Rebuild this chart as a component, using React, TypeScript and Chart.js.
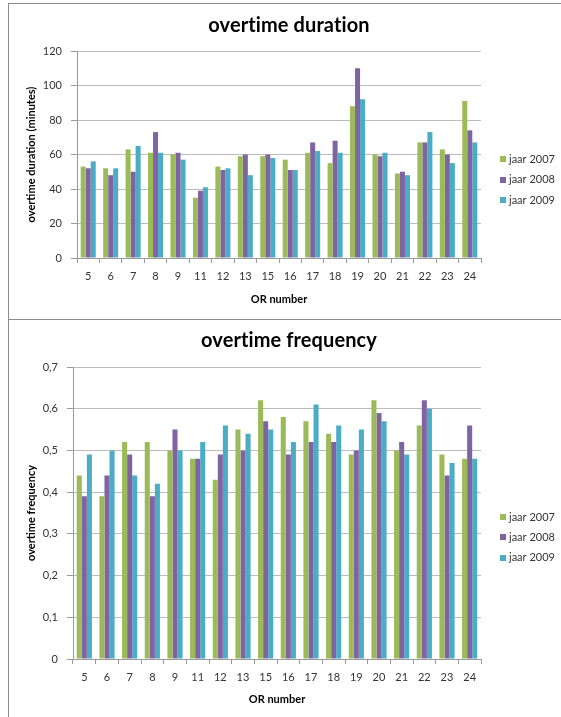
import React, { useEffect, useRef } from 'react';
import { Chart, registerables } from 'chart.js';

Chart.register(...registerables);

// Operating rooms on the category axis
const orNumbers = ['5', '6', '7', '8', '9', '11', '12', '13', '15', '16', '17', '18', '19', '20', '21', '22', '23', '24'];
const seriesNames = ['jaar 2007', 'jaar 2008', 'jaar 2009'];
const seriesColors = ['#9BBB59', '#8064A2', '#4BACC6'];

// Overtime duration in minutes per OR
const duration2007 = [53, 52, 63, 61, 60, 35, 53, 59, 59, 57, 61, 55, 88, 60, 49, 67, 63, 91];
const duration2008 = [52, 48, 50, 73, 61, 39, 51, 60, 60, 51, 67, 68, 110, 59, 50, 67, 60, 74];
const duration2009 = [56, 52, 65, 61, 57, 41, 52, 48, 58, 51, 62, 61, 92, 61, 48, 73, 55, 67];

// Overtime frequency per OR
const frequency2007 = [0.44, 0.39, 0.52, 0.52, 0.50, 0.48, 0.43, 0.55, 0.62, 0.58, 0.57, 0.54, 0.49, 0.62, 0.50, 0.56, 0.49, 0.48];
const frequency2008 = [0.39, 0.44, 0.49, 0.39, 0.55, 0.48, 0.49, 0.50, 0.57, 0.49, 0.52, 0.52, 0.50, 0.59, 0.52, 0.62, 0.44, 0.56];
const frequency2009 = [0.49, 0.50, 0.44, 0.42, 0.50, 0.52, 0.56, 0.54, 0.55, 0.52, 0.61, 0.56, 0.55, 0.57, 0.49, 0.60, 0.47, 0.48];

// Value-axis tick labels
const durationTickLabels = ['0', '20', '40', '60', '80', '100', '120'];
const frequencyTickLabels = ['0', '0,1', '0,2', '0,3', '0,4', '0,5', '0,6', '0,7'];

const FONT = 'Lato';
const TEXT = '#333333';
const AXIS = '#9a9a9a';
const GRID = '#bcbcbc';

// Draws the chart heading and the series key at the right-hand side
const headingAndKey = {
  id: 'headingAndKey',
  afterDraw(chart: any, _args: any, opts: any) {
    const ctx = chart.ctx;
    ctx.save();
    ctx.font = `bold 20px ${FONT}`;
    ctx.fillStyle = '#000000';
    ctx.textAlign = 'center';
    ctx.textBaseline = 'alphabetic';
    // a tiny letter spacing keeps the glyphs unligated
    if ('letterSpacing' in ctx) ctx.letterSpacing = '0.1px';
    ctx.fillText(opts.text, chart.width / 2, opts.baseline);
    if ('letterSpacing' in ctx) ctx.letterSpacing = '0px';

    ctx.font = `11px ${FONT}`;
    ctx.textAlign = 'left';
    ctx.textBaseline = 'middle';
    chart.data.datasets.forEach((ds: any, i: number) => {
      const y = opts.keyTop + i * opts.keyStep;
      ctx.fillStyle = ds.backgroundColor;
      ctx.fillRect(opts.keyX, Math.round(y - 3), 6, 6);
      ctx.fillStyle = TEXT;
      ctx.fillText(ds.label, opts.keyX + 9, y);
    });
    ctx.restore();
  },
};

type Spec = {
  title: string;
  yTitle: string;
  values: number[][];
  max: number;
  step: number;
  tickLabels: string[];
  axisWidth: number;
  axisHeight: number;
  xTitlePad: number;
  baseline: number;
  keyTop: number;
  keyStep: number;
  width: number;
  height: number;
};

function BarPanel({ spec, left, top }: { spec: Spec; left: number; top: number }) {
  const ref = useRef<HTMLCanvasElement | null>(null);

  useEffect(() => {
    if (!ref.current) return;
    const chart = new Chart(ref.current, {
      type: 'bar',
      data: {
        labels: orNumbers,
        datasets: spec.values.map((vals, i) => ({
          label: seriesNames[i],
          data: vals,
          backgroundColor: seriesColors[i],
          borderWidth: 0,
          categoryPercentage: 0.67,
          barPercentage: 1,
        })),
      },
      options: {
        responsive: false,
        animation: false,
        devicePixelRatio: 1,
        layout: { padding: { top: 47, right: 88, left: 0, bottom: 0 } },
        plugins: {
          legend: { display: false },
          title: { display: false },
          tooltip: { enabled: false },
          headingAndKey: {
            text: spec.title,
            baseline: spec.baseline,
            keyX: 491,
            keyTop: spec.keyTop,
            keyStep: spec.keyStep,
          },
        } as any,
        scales: {
          x: {
            grid: {
              display: true,
              drawOnChartArea: false,
              drawTicks: true,
              tickLength: 5,
              tickColor: AXIS,
              color: AXIS,
              offset: true,
            },
            border: { display: true, color: AXIS, width: 1 },
            ticks: {
              font: { family: FONT, size: 11 },
              color: TEXT,
              padding: 7,
              maxRotation: 0,
              autoSkip: false,
            },
            title: {
              display: true,
              text: 'OR number',
              font: { family: FONT, size: 11, weight: 'bold' },
              color: '#000000',
              padding: { top: 0, bottom: spec.xTitlePad },
            },
            afterFit(scale: any) {
              scale.height = spec.axisHeight;
            },
          },
          y: {
            min: 0,
            max: spec.max,
            grid: {
              color: GRID,
              lineWidth: 1,
              drawTicks: true,
              tickLength: 6,
              tickColor: AXIS,
            },
            border: { display: true, color: AXIS, width: 1 },
            ticks: {
              stepSize: spec.step,
              font: { family: FONT, size: 11 },
              color: TEXT,
              padding: 9,
              callback: (_v: any, index: number) => spec.tickLabels[index],
            },
            title: {
              display: true,
              text: spec.yTitle,
              font: { family: FONT, size: 11, weight: 'bold' },
              color: '#000000',
              padding: { top: 16, bottom: 0 },
            },
            afterFit(scale: any) {
              scale.width = spec.axisWidth;
            },
          },
        },
      },
      plugins: [headingAndKey],
    });
    return () => chart.destroy();
  }, [spec]);

  return (
    <canvas
      ref={ref}
      width={spec.width}
      height={spec.height}
      style={{ position: 'absolute', left, top, width: spec.width, height: spec.height }}
    />
  );
}

const durationSpec: Spec = {
  title: 'overtime duration',
  yTitle: 'overtime duration (minutes)',
  values: [duration2007, duration2008, duration2009],
  max: 120,
  step: 20,
  tickLabels: durationTickLabels,
  axisWidth: 68,
  axisHeight: 61,
  xTitlePad: 13,
  baseline: 28,
  keyTop: 155,
  keyStep: 20.7,
  width: 560,
  height: 315,
};

const frequencySpec: Spec = {
  title: 'overtime frequency',
  yTitle: 'overtime frequency',
  values: [frequency2007, frequency2008, frequency2009],
  max: 0.7,
  step: 0.1,
  tickLabels: frequencyTickLabels,
  axisWidth: 64,
  axisHeight: 58,
  xTitlePad: 11,
  baseline: 27,
  keyTop: 197,
  keyStep: 20.3,
  width: 560,
  height: 397,
};

export default function App() {
  const frame: React.CSSProperties = {
    position: 'absolute',
    left: 8,
    width: 620,
    boxSizing: 'border-box',
    border: '1px solid #8a8a8a',
    background: '#ffffff',
  };
  return (
    <div
      style={{
        position: 'absolute',
        left: 0,
        top: 0,
        width: 561,
        height: 717,
        overflow: 'hidden',
        background: '#ffffff',
      }}
    >
      <div style={{ ...frame, top: 3, height: 317 }} />
      <div style={{ ...frame, top: 319, height: 420 }} />
      <BarPanel spec={durationSpec} left={9} top={4} />
      <BarPanel spec={frequencySpec} left={9} top={320} />
    </div>
  );
}
